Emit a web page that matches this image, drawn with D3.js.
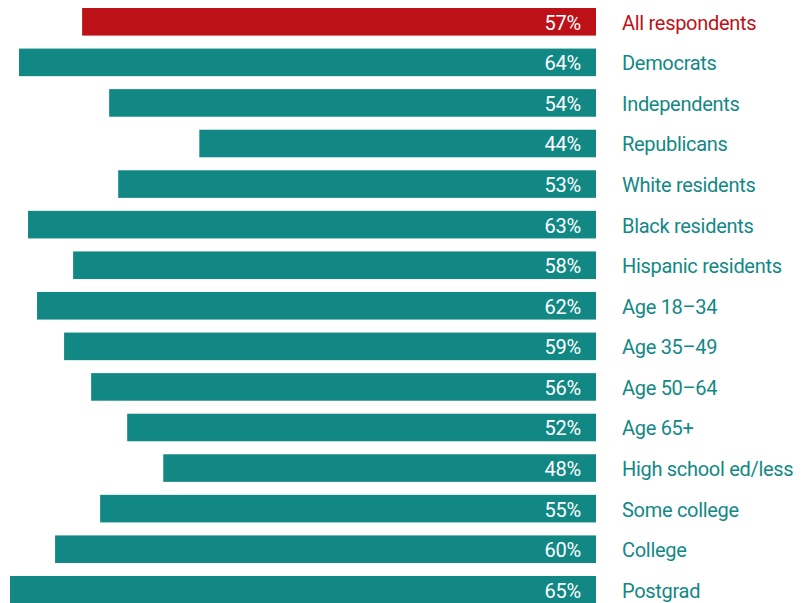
<!DOCTYPE html>
<html>
<head>
<meta charset="utf-8">
<script src="https://cdn.jsdelivr.net/npm/d3@7"></script>
<style>
  html, body { margin: 0; padding: 0; background: #fff; }
  svg text { font-family: Roboto, "Noto Sans", sans-serif; }
</style>
</head>
<body>
<svg id="chart" width="804" height="603"></svg>
<script>
const groups = ['All respondents', 'Democrats', 'Independents', 'Republicans', 'White residents',
  'Black residents', 'Hispanic residents', 'Age 18\u201334', 'Age 35\u201349', 'Age 50\u201364',
  'Age 65+', 'High school ed/less', 'Some college', 'College', 'Postgrad']
const shares = [57, 64, 54, 44, 53, 63, 58, 62, 59, 56, 52, 48, 55, 60, 65]
const highlight = ['All respondents']

const teal = '#128885'
const red = '#bd1118'

let svg = d3.select('#chart')
let barRight = 596
let barTop = 8, pitch = 40.57
let pad = 0.32

let x = d3.scaleLinear().domain([0, 65]).range([0, barRight - 10])
let y0 = barTop - pitch * pad / 2
let y = d3.scaleBand()
  .domain(groups)
  .range([y0, y0 + pitch * groups.length])
  .paddingInner(pad)
  .paddingOuter(pad / 2)

let colorOf = g => highlight.includes(g) ? red : teal

let rows = svg.selectAll('g.row')
  .data(groups.map((g, i) => ({ g, v: shares[i] })))
  .join('g')
  .attr('class', 'row')
  .attr('transform', d => `translate(0, ${y(d.g)})`)

rows.append('rect')
  .attr('x', d => barRight - x(d.v))
  .attr('y', 0)
  .attr('width', d => x(d.v))
  .attr('height', y.bandwidth())
  .attr('fill', d => colorOf(d.g))

rows.append('text')
  .attr('x', barRight - 15)
  .attr('y', y.bandwidth() / 2)
  .attr('dy', '0.4em')
  .attr('text-anchor', 'end')
  .attr('fill', '#fff')
  .attr('font-size', 20)
  .attr('letter-spacing', -0.2)
  .text(d => d.v + '%')

rows.append('text')
  .attr('x', 622)
  .attr('y', y.bandwidth() / 2)
  .attr('dy', '0.4em')
  .attr('fill', d => colorOf(d.g))
  .attr('font-size', 20)
  .attr('letter-spacing', -0.3)
  .text(d => d.g)
</script>
</body>
</html>
